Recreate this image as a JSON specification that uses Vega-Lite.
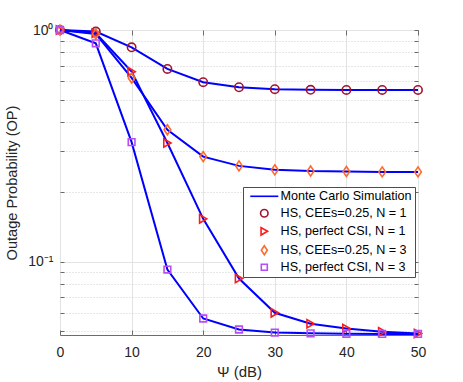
{
  "$schema": "https://vega.github.io/schema/vega-lite/v6.json",
  "width": 358,
  "height": 305,
  "autosize": {"type": "none"},
  "padding": {"left": 60, "top": 30, "right": 45, "bottom": 47},
  "background": "white",
  "config": {
    "font": "Liberation Sans",
    "view": {"stroke": "#6b6b6b", "strokeWidth": 1}
  },
  "data": {
    "values": [
      {"series": "HS, CEEs=0.25, N = 1", "psi": 0, "op": 1.0},
      {"series": "HS, CEEs=0.25, N = 1", "psi": 5, "op": 0.985},
      {"series": "HS, CEEs=0.25, N = 1", "psi": 10, "op": 0.842},
      {"series": "HS, CEEs=0.25, N = 1", "psi": 15, "op": 0.679},
      {"series": "HS, CEEs=0.25, N = 1", "psi": 20, "op": 0.595},
      {"series": "HS, CEEs=0.25, N = 1", "psi": 25, "op": 0.566},
      {"series": "HS, CEEs=0.25, N = 1", "psi": 30, "op": 0.555},
      {"series": "HS, CEEs=0.25, N = 1", "psi": 35, "op": 0.552},
      {"series": "HS, CEEs=0.25, N = 1", "psi": 40, "op": 0.551},
      {"series": "HS, CEEs=0.25, N = 1", "psi": 45, "op": 0.551},
      {"series": "HS, CEEs=0.25, N = 1", "psi": 50, "op": 0.551},
      {"series": "HS, perfect CSI, N = 1", "psi": 0, "op": 1.0},
      {"series": "HS, perfect CSI, N = 1", "psi": 5, "op": 0.968},
      {"series": "HS, perfect CSI, N = 1", "psi": 10, "op": 0.661},
      {"series": "HS, perfect CSI, N = 1", "psi": 15, "op": 0.325},
      {"series": "HS, perfect CSI, N = 1", "psi": 20, "op": 0.153},
      {"series": "HS, perfect CSI, N = 1", "psi": 25, "op": 0.0845},
      {"series": "HS, perfect CSI, N = 1", "psi": 30, "op": 0.0601},
      {"series": "HS, perfect CSI, N = 1", "psi": 35, "op": 0.0539},
      {"series": "HS, perfect CSI, N = 1", "psi": 40, "op": 0.0514},
      {"series": "HS, perfect CSI, N = 1", "psi": 45, "op": 0.0498},
      {"series": "HS, perfect CSI, N = 1", "psi": 50, "op": 0.0489},
      {"series": "HS, CEEs=0.25, N = 3", "psi": 0, "op": 1.0},
      {"series": "HS, CEEs=0.25, N = 3", "psi": 5, "op": 0.962},
      {"series": "HS, CEEs=0.25, N = 3", "psi": 10, "op": 0.621},
      {"series": "HS, CEEs=0.25, N = 3", "psi": 15, "op": 0.371},
      {"series": "HS, CEEs=0.25, N = 3", "psi": 20, "op": 0.284},
      {"series": "HS, CEEs=0.25, N = 3", "psi": 25, "op": 0.259},
      {"series": "HS, CEEs=0.25, N = 3", "psi": 30, "op": 0.249},
      {"series": "HS, CEEs=0.25, N = 3", "psi": 35, "op": 0.246},
      {"series": "HS, CEEs=0.25, N = 3", "psi": 40, "op": 0.245},
      {"series": "HS, CEEs=0.25, N = 3", "psi": 45, "op": 0.244},
      {"series": "HS, CEEs=0.25, N = 3", "psi": 50, "op": 0.244},
      {"series": "HS, perfect CSI, N = 3", "psi": 0, "op": 1.0},
      {"series": "HS, perfect CSI, N = 3", "psi": 5, "op": 0.876},
      {"series": "HS, perfect CSI, N = 3", "psi": 10, "op": 0.328},
      {"series": "HS, perfect CSI, N = 3", "psi": 15, "op": 0.0924},
      {"series": "HS, perfect CSI, N = 3", "psi": 20, "op": 0.0568},
      {"series": "HS, perfect CSI, N = 3", "psi": 25, "op": 0.0509},
      {"series": "HS, perfect CSI, N = 3", "psi": 30, "op": 0.0494},
      {"series": "HS, perfect CSI, N = 3", "psi": 35, "op": 0.049},
      {"series": "HS, perfect CSI, N = 3", "psi": 40, "op": 0.0488},
      {"series": "HS, perfect CSI, N = 3", "psi": 45, "op": 0.0487},
      {"series": "HS, perfect CSI, N = 3", "psi": 50, "op": 0.0487}
    ]
  },
  "layer": [
    {
      "mark": {"type": "line", "color": "#0000FF", "strokeWidth": 2, "clip": false},
      "encoding": {
        "x": {
          "field": "psi", "type": "quantitative",
          "scale": {"domain": [0, 50], "nice": false, "zero": false},
          "axis": {
            "orient": "bottom",
            "values": [0, 10, 20, 30, 40, 50],
            "title": "Ψ (dB)",
            "titleFontSize": 15, "titleFontWeight": "normal", "titleColor": "#262626",
            "titleY": 41, "titleBaseline": "alphabetic",
            "labelFontSize": 14, "labelColor": "#262626", "labelPadding": 15,
            "labelFlush": false, "labelOverlap": false,
            "tickSize": -5, "tickColor": "#6b6b6b",
            "domain": false,
            "grid": true, "gridColor": "#e3e3e3", "gridWidth": 1
          }
        },
        "y": {
          "field": "op", "type": "quantitative",
          "scale": {"type": "log", "domain": [0.0482, 1], "nice": false, "zero": false},
          "axis": {
            "orient": "left",
            "values": [0.05, 0.06, 0.07, 0.08, 0.09, 0.1, 0.2, 0.3, 0.4, 0.5, 0.6, 0.7, 0.8, 0.9, 1],
            "labelExpr": "datum.value == 1 ? '10⁰' : (abs(datum.value - 0.1) < 1e-9 ? '10⁻¹' : '')",
            "title": "Outage Probability (OP)",
            "titleFontSize": 14.6, "titleFontWeight": "normal", "titleColor": "#262626",
            "titleAngle": 270, "titleX": -44, "titleY": 152.5, "titleAlign": "center", "titleBaseline": "alphabetic",
            "labelFontSize": 14, "labelColor": "#262626", "labelPadding": 11,
            "labelFlush": false, "labelOverlap": false,
            "tickSize": -4, "tickColor": "#6b6b6b",
            "domain": false,
            "grid": true,
            "gridColor": {"condition": {"test": "datum.value == 1 || abs(datum.value - 0.1) < 1e-9", "value": "#e3e3e3"}, "value": "#cfcfcf"},
            "gridDash": {"condition": {"test": "datum.value == 1 || abs(datum.value - 0.1) < 1e-9", "value": []}, "value": [1, 2]},
            "gridWidth": 1
          }
        },
        "detail": {"field": "series", "type": "nominal"}
      }
    },
    {
      "mark": {"type": "point", "filled": false, "strokeWidth": 1.6, "size": 70, "opacity": 1, "clip": false},
      "encoding": {
        "x": {
          "field": "psi", "type": "quantitative",
          "axis": {
            "orient": "top", "values": [0, 10, 20, 30, 40, 50],
            "labels": false, "title": null, "grid": false, "domain": false,
            "tickSize": -5, "tickColor": "#6b6b6b"
          }
        },
        "y": {
          "field": "op", "type": "quantitative",
          "axis": {
            "orient": "right",
            "values": [0.05, 0.06, 0.07, 0.08, 0.09, 0.1, 0.2, 0.3, 0.4, 0.5, 0.6, 0.7, 0.8, 0.9, 1],
            "labels": false, "title": null, "grid": false, "domain": false,
            "tickSize": -4, "tickColor": "#6b6b6b"
          }
        },
        "shape": {
          "field": "series", "type": "nominal",
          "scale": {
            "domain": ["Monte Carlo Simulation", "HS, CEEs=0.25, N = 1", "HS, perfect CSI, N = 1", "HS, CEEs=0.25, N = 3", "HS, perfect CSI, N = 3"],
            "range": ["M-3.75,0L3.75,0", "circle", "triangle-right", "M0,-1.2L0.8,0L0,1.2L-0.8,0Z", "M-0.8,-0.8L0.8,-0.8L0.8,0.8L-0.8,0.8Z"]
          },
          "legend": {
            "orient": "none", "legendX": 183, "legendY": 157, "title": null,
            "symbolOffset": 12, "labelOffset": 10, "symbolSize": 56, "rowPadding": 3,
            "padding": 3, "fillColor": "white", "strokeColor": "#4d4d4d",
            "labelFontSize": 12.6, "labelColor": "#000000", "symbolStrokeWidth": 1.6, "labelLimit": 300
          }
        },
        "color": {
          "field": "series", "type": "nominal",
          "scale": {
            "domain": ["Monte Carlo Simulation", "HS, CEEs=0.25, N = 1", "HS, perfect CSI, N = 1", "HS, CEEs=0.25, N = 3", "HS, perfect CSI, N = 3"],
            "range": ["#0000FF", "#A2142F", "#FF1A1A", "#FF6A2A", "#B54EF5"]
          },
          "legend": {
            "orient": "none", "legendX": 183, "legendY": 157, "title": null,
            "symbolOffset": 12, "labelOffset": 10, "symbolSize": 56, "rowPadding": 3,
            "padding": 3, "fillColor": "white", "strokeColor": "#4d4d4d",
            "labelFontSize": 12.6, "labelColor": "#000000", "symbolStrokeWidth": 1.6, "labelLimit": 300
          }
        }
      }
    }
  ],
  "resolve": {"axis": {"x": "independent", "y": "independent"}}
}
